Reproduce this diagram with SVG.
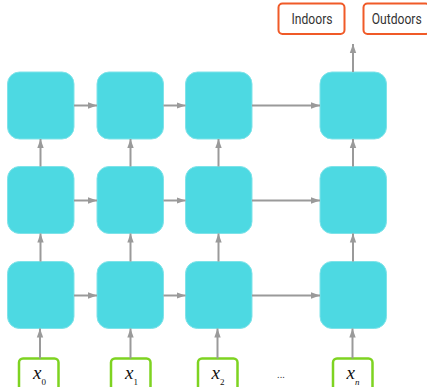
<svg xmlns="http://www.w3.org/2000/svg" width="427" height="387" viewBox="0 0 427 387">
<style>
.cell{fill:#4dd9e2;stroke:#7ee3e9;stroke-width:1}
.out{fill:#fff;stroke:#f05a28;stroke-width:2}
.in{fill:#fff;stroke:#7ed321;stroke-width:2.5}
.lbl{font-family:Roboto,"Liberation Sans",sans-serif;font-size:14px;fill:#333;text-anchor:middle}
.var{font-family:"Liberation Serif","DejaVu Serif",serif;font-style:italic;font-size:19px;fill:#111}
.sub{font-family:"Liberation Serif","DejaVu Serif",serif;font-size:9px;fill:#111}
.conn line{stroke:#9a9a9a;stroke-width:2;marker-end:url(#ah)}
</style>
<defs>
<marker id="ah" markerUnits="userSpaceOnUse" markerWidth="10" markerHeight="8" refX="9" refY="4" orient="auto">
<path d="M0,0.8 L9,4 L0,7.2 Z" fill="#9a9a9a"/>
</marker>
</defs>
<g id="out-indoors"><rect class="out" x="278.5" y="3.5" width="66" height="30.5" rx="4"/><text class="lbl" x="312" y="23.5" textLength="41" lengthAdjust="spacingAndGlyphs">Indoors</text></g>
<g id="out-outdoors"><rect class="out" x="363.5" y="3.5" width="66" height="30.5" rx="4"/><text class="lbl" x="396.7" y="23.5" textLength="50" lengthAdjust="spacingAndGlyphs">Outdoors</text></g>
<g id="h1-0"><rect class="cell" x="7.5" y="72" width="66.5" height="67" rx="12"/></g>
<g id="h1-1"><rect class="cell" x="97" y="72" width="66.5" height="67" rx="12"/></g>
<g id="h1-2"><rect class="cell" x="185.5" y="72" width="66.5" height="67" rx="12"/></g>
<g id="h1-n"><rect class="cell" x="320" y="72" width="66.5" height="67" rx="12"/></g>
<g id="h2-0"><rect class="cell" x="7.5" y="166.5" width="66.5" height="67" rx="12"/></g>
<g id="h2-1"><rect class="cell" x="97" y="166.5" width="66.5" height="67" rx="12"/></g>
<g id="h2-2"><rect class="cell" x="185.5" y="166.5" width="66.5" height="67" rx="12"/></g>
<g id="h2-n"><rect class="cell" x="320" y="166.5" width="66.5" height="67" rx="12"/></g>
<g id="h3-0"><rect class="cell" x="7.5" y="261.5" width="66.5" height="67" rx="12"/></g>
<g id="h3-1"><rect class="cell" x="97" y="261.5" width="66.5" height="67" rx="12"/></g>
<g id="h3-2"><rect class="cell" x="185.5" y="261.5" width="66.5" height="67" rx="12"/></g>
<g id="h3-n"><rect class="cell" x="320" y="261.5" width="66.5" height="67" rx="12"/></g>
<g id="x0"><rect class="in" x="19" y="358.5" width="39.5" height="32" rx="4"/><text class="var" x="33" y="378.5">x</text><text class="sub" x="41.5" y="385">0</text></g>
<g id="x1"><rect class="in" x="111" y="358.5" width="39.5" height="32" rx="4"/><text class="var" x="125" y="378.5">x</text><text class="sub" x="133.5" y="385">1</text></g>
<g id="x2"><rect class="in" x="198" y="358.5" width="39.5" height="32" rx="4"/><text class="var" x="211.5" y="378.5">x</text><text class="sub" x="220" y="385">2</text></g>
<g id="xn"><rect class="in" x="333" y="358.5" width="39.5" height="32" rx="4"/><text class="var" x="346.5" y="378.5">x</text><text class="sub" x="355" y="385" font-style="italic">n</text></g>
<text x="281" y="378" style="font-family:Roboto,'Liberation Sans',sans-serif;font-size:10px;fill:#333;text-anchor:middle">...</text>
<g class="conn">
<line x1="74" y1="105.5" x2="97" y2="105.5"/>
<line x1="163.5" y1="105.5" x2="185.5" y2="105.5"/>
<line x1="252" y1="105.5" x2="320" y2="105.5"/>
<line x1="74" y1="200.5" x2="97" y2="200.5"/>
<line x1="163.5" y1="200.5" x2="185.5" y2="200.5"/>
<line x1="252" y1="200.5" x2="320" y2="200.5"/>
<line x1="74" y1="295.5" x2="97" y2="295.5"/>
<line x1="163.5" y1="295.5" x2="185.5" y2="295.5"/>
<line x1="252" y1="295.5" x2="320" y2="295.5"/>
<line x1="40.5" y1="166.5" x2="40.5" y2="139"/>
<line x1="130.5" y1="166.5" x2="130.5" y2="139"/>
<line x1="218.5" y1="166.5" x2="218.5" y2="139"/>
<line x1="353" y1="166.5" x2="353" y2="139"/>
<line x1="40.5" y1="261.5" x2="40.5" y2="233.5"/>
<line x1="130.5" y1="261.5" x2="130.5" y2="233.5"/>
<line x1="218.5" y1="261.5" x2="218.5" y2="233.5"/>
<line x1="353" y1="261.5" x2="353" y2="233.5"/>
<line x1="40" y1="358.5" x2="40" y2="328.5"/>
<line x1="130.5" y1="358.5" x2="130.5" y2="328.5"/>
<line x1="217.5" y1="358.5" x2="217.5" y2="328.5"/>
<line x1="352.5" y1="358.5" x2="352.5" y2="328.5"/>
<line x1="353" y1="72" x2="353" y2="44"/>
</g>
</svg>
